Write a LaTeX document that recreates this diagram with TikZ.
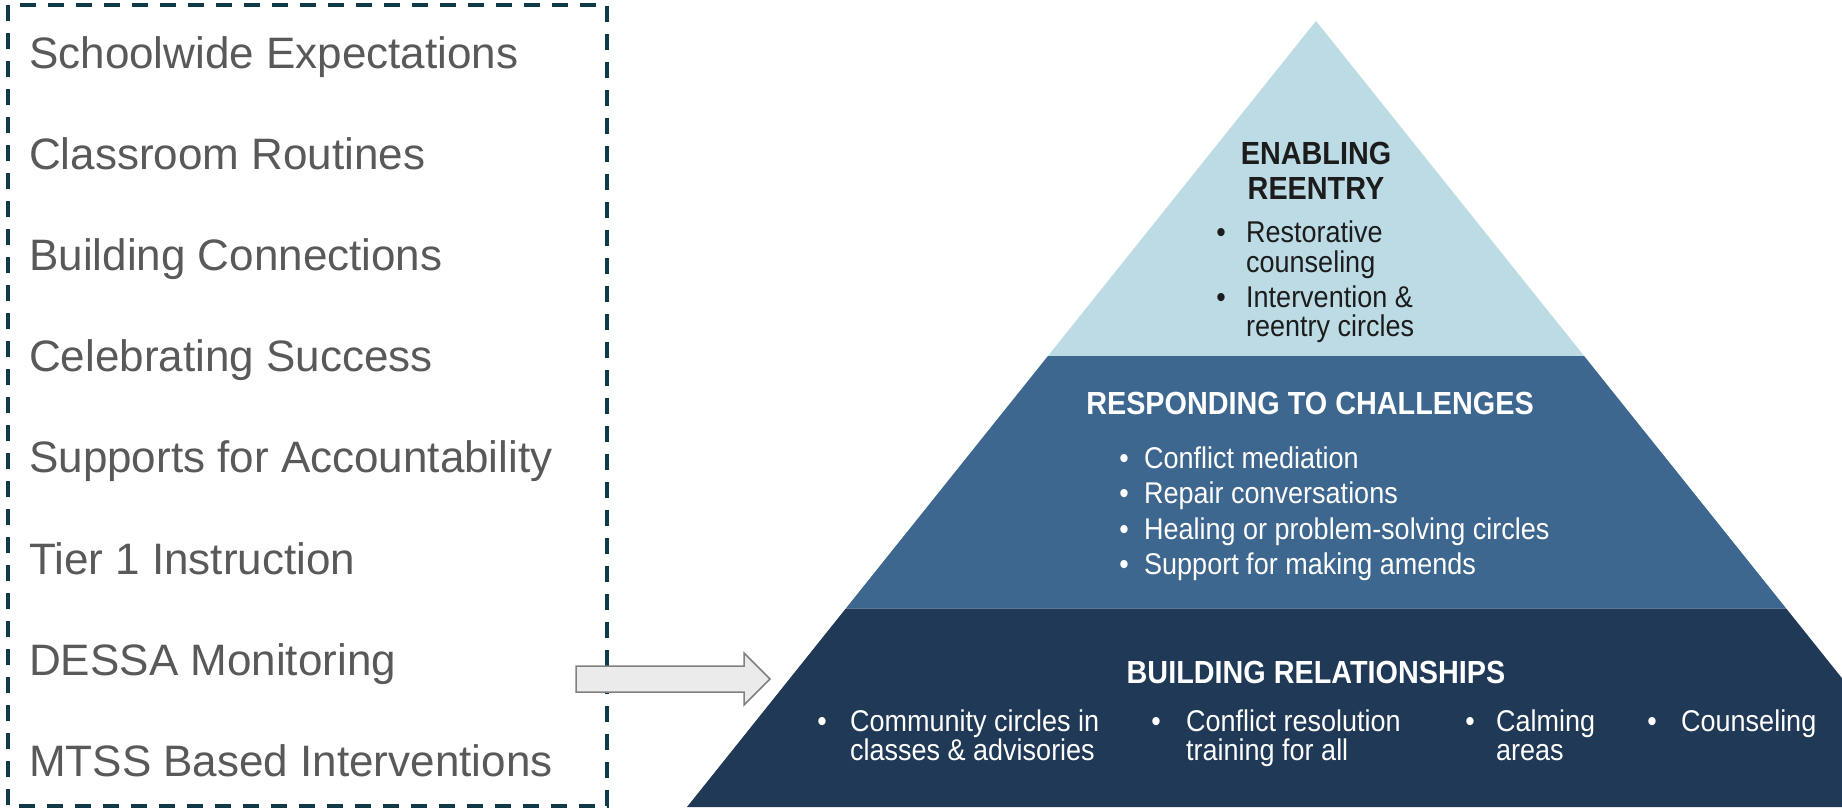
\documentclass[tikz,border=0pt]{standalone}
\usepackage{fontspec}
\setmainfont{Liberation Sans}
\newfontfamily\pyrfont[FakeStretch=0.9]{Liberation Sans}
\definecolor{boxline}{HTML}{0E3B47}
\definecolor{listgray}{HTML}{595959}
\definecolor{tierA}{HTML}{BCDBE4}
\definecolor{tierB}{HTML}{3E678F}
\definecolor{tierC}{HTML}{1F3956}
\definecolor{arrowfill}{HTML}{EBEBEB}
\definecolor{arrowline}{HTML}{808080}
\definecolor{darktext}{HTML}{1C1C1C}
\begin{document}
\begin{tikzpicture}[x=1pt,y=-1pt,
  listitem/.style={anchor=base west, inner sep=0pt, text=listgray, font=\fontsize{44}{48}\selectfont},
  head/.style={anchor=base, inner sep=0pt, font=\pyrfont\bfseries\fontsize{32}{36}\selectfont},
  btxt/.style={anchor=base west, inner sep=0pt, font=\pyrfont\fontsize{30}{30}\selectfont},
  bdot/.style={anchor=base, inner sep=0pt, font=\pyrfont\fontsize{30}{30}\selectfont},
  dk/.style={text=darktext},
  wt/.style={text=white}
]
\useasboundingbox (0,0) rectangle (1842,807);
\fill[white] (0,0) rectangle (1842,807);

% dashed box
\draw[boxline, line width=4, dash pattern=on 16 off 12] (8,5) rectangle (607,806);

% list
\node[listitem] (l1) at (29,68) {Schoolwide Expectations};
\node[listitem] (l2) at (29,169) {Classroom Routines};
\node[listitem] (l3) at (29,270) {Building Connections};
\node[listitem] (l4) at (29,371) {Celebrating Success};
\node[listitem] (l5) at (29,472) {Supports for Accountability};
\node[listitem] (l6) at (29,574) {Tier 1 Instruction};
\node[listitem] (l7) at (29,675) {DESSA Monitoring};
\node[listitem] (l8) at (29,776) {MTSS Based Interventions};

% pyramid
\begin{scope}
\clip (0,0) rectangle (1842,807);
\fill[tierA] (1316,21) -- (1584.1,356) -- (1047.9,356) -- cycle;
\fill[tierB] (1047.9,356) -- (1584.1,356) -- (1786.2,608.5) -- (845.8,608.5) -- cycle;
\fill[tierC] (845.8,608.5) -- (1786.2,608.5) -- (1945,807) -- (687,807) -- cycle;
\end{scope}

% arrow
\draw[fill=arrowfill, draw=arrowline, line width=1.5, line join=miter]
  (576,666) -- (744,666) -- (744,653) -- (770,679) -- (744,705) -- (744,692) -- (576,692) -- cycle;

% top tier
\node[head, dk] (h1a) at (1316,164) {ENABLING};
\node[head, dk] (h1b) at (1316,199) {REENTRY};
\node[bdot, dk] (d1) at (1221,242) {•};
\node[btxt, dk] (t1a) at (1246,242) {Restorative};
\node[btxt, dk] (t1b) at (1246,272) {counseling};
\node[bdot, dk] (d2) at (1221,307) {•};
\node[btxt, dk] (t2a) at (1246,307) {Intervention \&};
\node[btxt, dk] (t2b) at (1246,336) {reentry circles};

% middle tier
\node[head, wt] (h2) at (1310,414) {RESPONDING TO CHALLENGES};
\node[bdot, wt] (d3) at (1124,468) {•};
\node[btxt, wt] (t3) at (1144,468) {Conflict mediation};
\node[bdot, wt] (d4) at (1124,503.5) {•};
\node[btxt, wt] (t4) at (1144,503.5) {Repair conversations};
\node[bdot, wt] (d5) at (1124,539) {•};
\node[btxt, wt] (t5) at (1144,539) {Healing or problem-solving circles};
\node[bdot, wt] (d6) at (1124,574.5) {•};
\node[btxt, wt] (t6) at (1144,574.5) {Support for making amends};

% bottom tier
\node[head, wt] (h3) at (1316,683) {BUILDING RELATIONSHIPS};
\node[bdot, wt] (d7) at (822,731) {•};
\node[btxt, wt] (t7a) at (850,731) {Community circles in};
\node[btxt, wt] (t7b) at (850,760) {classes \& advisories};
\node[bdot, wt] (d8) at (1156,731) {•};
\node[btxt, wt] (t8a) at (1186,731) {Conflict resolution};
\node[btxt, wt] (t8b) at (1186,760) {training for all};
\node[bdot, wt] (d9) at (1470,731) {•};
\node[btxt, wt] (t9a) at (1496,731) {Calming};
\node[btxt, wt] (t9b) at (1496,760) {areas};
\node[bdot, wt] (d10) at (1652,731) {•};
\node[btxt, wt] (t10) at (1681,731) {Counseling};
\end{tikzpicture}
\end{document}
